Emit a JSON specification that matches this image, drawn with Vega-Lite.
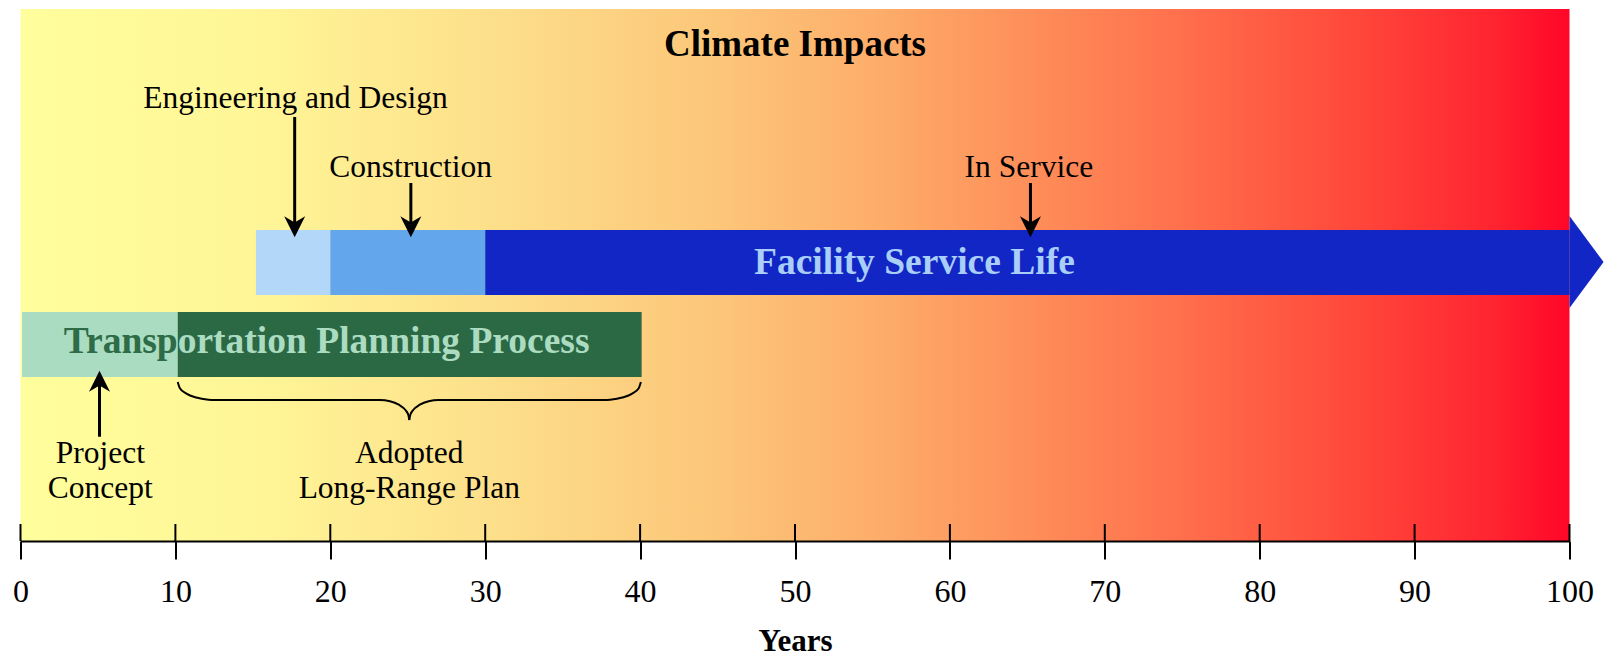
{
  "$schema": "https://vega.github.io/schema/vega-lite/v6.json",
  "width": 1549,
  "height": 532,
  "autosize": {"type": "none"},
  "padding": {"left": 20.5, "top": 9, "right": 39.5, "bottom": 116},
  "background": "white",
  "config": {"view": {"stroke": null}, "font": "Liberation Serif"},
  "datasets": {
    "bg": [{"x": 0, "x2": 100, "y": 0, "y2": 100}],
    "bars": [
      {"phase": "Engineering and Design", "x": 15.2, "x2": 20, "y": 46.24, "y2": 58.46},
      {"phase": "Construction", "x": 20, "x2": 30, "y": 46.24, "y2": 58.46},
      {"phase": "In Service", "x": 30, "x2": 100, "y": 46.24, "y2": 58.46},
      {"phase": "Project Concept", "x": 0.1, "x2": 10.15, "y": 30.83, "y2": 43.05},
      {"phase": "Adopted Long-Range Plan", "x": 10.15, "x2": 40.1, "y": 30.83, "y2": 43.05}
    ],
    "arrowhead": [
      {"x": 100, "y": 61.09, "y2": 43.8},
      {"x": 102.2, "y": 52.44, "y2": 52.44}
    ],
    "brace": [
      {"half": "L", "x": 10.15, "y": 29.89},
      {"half": "L", "x": 10.29, "y": 28.73},
      {"half": "L", "x": 10.71, "y": 27.71},
      {"half": "L", "x": 11.35, "y": 26.96},
      {"half": "L", "x": 12.13, "y": 26.56},
      {"half": "L", "x": 12.55, "y": 26.5},
      {"half": "L", "x": 23.2, "y": 26.5},
      {"half": "L", "x": 23.85, "y": 26.28},
      {"half": "L", "x": 24.42, "y": 25.62},
      {"half": "L", "x": 24.85, "y": 24.62},
      {"half": "L", "x": 25.04, "y": 23.68},
      {"half": "L", "x": 25.1, "y": 22.74},
      {"half": "R", "x": 25.1, "y": 22.74},
      {"half": "R", "x": 25.16, "y": 23.68},
      {"half": "R", "x": 25.35, "y": 24.62},
      {"half": "R", "x": 25.78, "y": 25.62},
      {"half": "R", "x": 26.35, "y": 26.28},
      {"half": "R", "x": 27.0, "y": 26.5},
      {"half": "R", "x": 37.65, "y": 26.5},
      {"half": "R", "x": 38.07, "y": 26.56},
      {"half": "R", "x": 38.85, "y": 26.96},
      {"half": "R", "x": 39.49, "y": 27.71},
      {"half": "R", "x": 39.91, "y": 28.73},
      {"half": "R", "x": 40.05, "y": 29.89}
    ],
    "arrowsDown": [
      {"name": "Engineering and Design", "x": 17.7, "y": 79.7, "y2": 57.09},
      {"name": "Construction", "x": 25.2, "y": 67.29, "y2": 57.09},
      {"name": "In Service", "x": 65.2, "y": 67.29, "y2": 57.09}
    ],
    "arrowsUp": [
      {"name": "Project Concept", "x": 5.1, "y": 19.6, "y2": 32.01}
    ],
    "ticks": [
      {"x": 0, "y": 0, "y2": 3.2}, {"x": 10, "y": 0, "y2": 3.2}, {"x": 20, "y": 0, "y2": 3.2},
      {"x": 30, "y": 0, "y2": 3.2}, {"x": 40, "y": 0, "y2": 3.2}, {"x": 50, "y": 0, "y2": 3.2},
      {"x": 60, "y": 0, "y2": 3.2}, {"x": 70, "y": 0, "y2": 3.2}, {"x": 80, "y": 0, "y2": 3.2},
      {"x": 90, "y": 0, "y2": 3.2}, {"x": 100, "y": 0, "y2": 3.2}
    ],
    "title": [{"label": "Climate Impacts", "x": 50, "y": 91.13}],
    "labels": [
      {"label": "Engineering and Design", "x": 17.75, "y": 81.39},
      {"label": "Construction", "x": 25.18, "y": 68.5},
      {"label": "In Service", "x": 65.1, "y": 68.5},
      {"label": "Project", "x": 5.15, "y": 14.66},
      {"label": "Concept", "x": 5.15, "y": 8.08},
      {"label": "Adopted", "x": 25.1, "y": 14.66},
      {"label": "Long-Range Plan", "x": 25.1, "y": 8.08}
    ],
    "facility": [{"label": "Facility Service Life", "x": 57.71, "y": 50.19}],
    "planLeft": [{"label": "Transp", "x": 10.15, "y": 35.28}],
    "planRight": [{"label": "ortation Planning Process", "x": 10.15, "y": 35.28}]
  },
  "layer": [
    {
      "data": {"name": "bg"},
      "mark": {
        "type": "rect",
        "fill": {
          "gradient": "linear", "x1": 0, "y1": 0, "x2": 1, "y2": 0,
          "stops": [
            {"offset": 0, "color": "#FFFE9C"},
            {"offset": 0.15, "color": "#FFF697"},
            {"offset": 0.3, "color": "#FDE08B"},
            {"offset": 0.45, "color": "#FCC679"},
            {"offset": 0.55, "color": "#FDAE6A"},
            {"offset": 0.65, "color": "#FE8F5A"},
            {"offset": 0.75, "color": "#FF6F4C"},
            {"offset": 0.85, "color": "#FF4C3C"},
            {"offset": 0.95, "color": "#FF2530"},
            {"offset": 1, "color": "#FF0628"}
          ]
        }
      },
      "encoding": {
        "x": {
          "field": "x", "type": "quantitative",
          "scale": {"domain": [0, 100], "nice": false, "zero": false},
          "axis": {
            "title": "Years",
            "values": [0, 10, 20, 30, 40, 50, 60, 70, 80, 90, 100],
            "grid": false,
            "zindex": 1,
            "domainColor": "#000000",
            "domainWidth": 2,
            "tickColor": "#000000",
            "tickWidth": 2,
            "tickSize": 18,
            "labelFont": "Liberation Serif",
            "labelFontSize": 32,
            "labelColor": "#000000",
            "labelPadding": 17,
            "labelFlush": false,
            "labelOverlap": false,
            "titleFont": "Liberation Serif",
            "titleFontSize": 31,
            "titleFontWeight": "bold",
            "titleColor": "#000000",
            "titlePadding": 19
          }
        },
        "x2": {"field": "x2"},
        "y": {"field": "y", "type": "quantitative", "scale": {"domain": [0, 100], "nice": false, "zero": false}, "axis": null},
        "y2": {"field": "y2"}
      }
    },
    {
      "data": {"name": "bars"},
      "mark": {"type": "rect"},
      "encoding": {
        "x": {"field": "x", "type": "quantitative"},
        "x2": {"field": "x2"},
        "y": {"field": "y", "type": "quantitative", "axis": null},
        "y2": {"field": "y2"},
        "color": {
          "field": "phase", "type": "nominal", "legend": null,
          "scale": {
            "domain": ["Engineering and Design", "Construction", "In Service", "Project Concept", "Adopted Long-Range Plan"],
            "range": ["#B3D7F8", "#63A6EC", "#1126C4", "#A9DCC0", "#2B6844"]
          }
        }
      }
    },
    {
      "data": {"name": "arrowhead"},
      "mark": {"type": "area", "color": "#1126C4", "opacity": 1},
      "encoding": {
        "x": {"field": "x", "type": "quantitative"},
        "y": {"field": "y", "type": "quantitative", "axis": null},
        "y2": {"field": "y2"}
      }
    },
    {
      "data": {"name": "brace"},
      "mark": {"type": "line", "interpolate": "monotone", "color": "#000000", "strokeWidth": 2},
      "encoding": {
        "x": {"field": "x", "type": "quantitative"},
        "y": {"field": "y", "type": "quantitative", "axis": null},
        "detail": {"field": "half", "type": "nominal"}
      }
    },
    {
      "data": {"name": "arrowsDown"},
      "mark": {"type": "rule", "color": "#000000", "strokeWidth": 3, "y2Offset": -10},
      "encoding": {
        "x": {"field": "x", "type": "quantitative"},
        "y": {"field": "y", "type": "quantitative", "axis": null},
        "y2": {"field": "y2"}
      }
    },
    {
      "data": {"name": "arrowsUp"},
      "mark": {"type": "rule", "color": "#000000", "strokeWidth": 3, "y2Offset": 10},
      "encoding": {
        "x": {"field": "x", "type": "quantitative"},
        "y": {"field": "y", "type": "quantitative", "axis": null},
        "y2": {"field": "y2"}
      }
    },
    {
      "data": {"name": "arrowsDown"},
      "mark": {"type": "point", "shape": "M0,0 L-1,-2 L0,-1.4 L1,-2 Z", "size": 441, "filled": true, "opacity": 1, "color": "#000000", "strokeWidth": 0},
      "encoding": {
        "x": {"field": "x", "type": "quantitative"},
        "y": {"field": "y2", "type": "quantitative", "axis": null}
      }
    },
    {
      "data": {"name": "arrowsUp"},
      "mark": {"type": "point", "shape": "M0,0 L-1,2 L0,1.4 L1,2 Z", "size": 441, "filled": true, "opacity": 1, "color": "#000000", "strokeWidth": 0},
      "encoding": {
        "x": {"field": "x", "type": "quantitative"},
        "y": {"field": "y2", "type": "quantitative", "axis": null}
      }
    },
    {
      "data": {"name": "ticks"},
      "mark": {"type": "rule", "color": "#000000", "strokeWidth": 2},
      "encoding": {
        "x": {"field": "x", "type": "quantitative"},
        "y": {"field": "y", "type": "quantitative", "axis": null},
        "y2": {"field": "y2"}
      }
    },
    {
      "data": {"name": "title"},
      "mark": {"type": "text", "font": "Liberation Serif", "fontSize": 37, "fontWeight": "bold", "color": "#000000", "align": "center", "baseline": "alphabetic"},
      "encoding": {
        "x": {"field": "x", "type": "quantitative"},
        "y": {"field": "y", "type": "quantitative", "axis": null},
        "text": {"field": "label"}
      }
    },
    {
      "data": {"name": "labels"},
      "mark": {"type": "text", "font": "Liberation Serif", "fontSize": 31.5, "color": "#000000", "align": "center", "baseline": "alphabetic"},
      "encoding": {
        "x": {"field": "x", "type": "quantitative"},
        "y": {"field": "y", "type": "quantitative", "axis": null},
        "text": {"field": "label"}
      }
    },
    {
      "data": {"name": "facility"},
      "mark": {"type": "text", "font": "Liberation Serif", "fontSize": 37.5, "fontWeight": "bold", "color": "#A9CEF8", "align": "center", "baseline": "alphabetic"},
      "encoding": {
        "x": {"field": "x", "type": "quantitative"},
        "y": {"field": "y", "type": "quantitative", "axis": null},
        "text": {"field": "label"}
      }
    },
    {
      "data": {"name": "planLeft"},
      "mark": {"type": "text", "font": "Liberation Serif", "fontSize": 37.5, "fontWeight": "bold", "color": "#2E6B47", "align": "right", "baseline": "alphabetic"},
      "encoding": {
        "x": {"field": "x", "type": "quantitative"},
        "y": {"field": "y", "type": "quantitative", "axis": null},
        "text": {"field": "label"}
      }
    },
    {
      "data": {"name": "planRight"},
      "mark": {"type": "text", "font": "Liberation Serif", "fontSize": 37.5, "fontWeight": "bold", "color": "#ABDBC0", "align": "left", "baseline": "alphabetic"},
      "encoding": {
        "x": {"field": "x", "type": "quantitative"},
        "y": {"field": "y", "type": "quantitative", "axis": null},
        "text": {"field": "label"}
      }
    }
  ]
}
